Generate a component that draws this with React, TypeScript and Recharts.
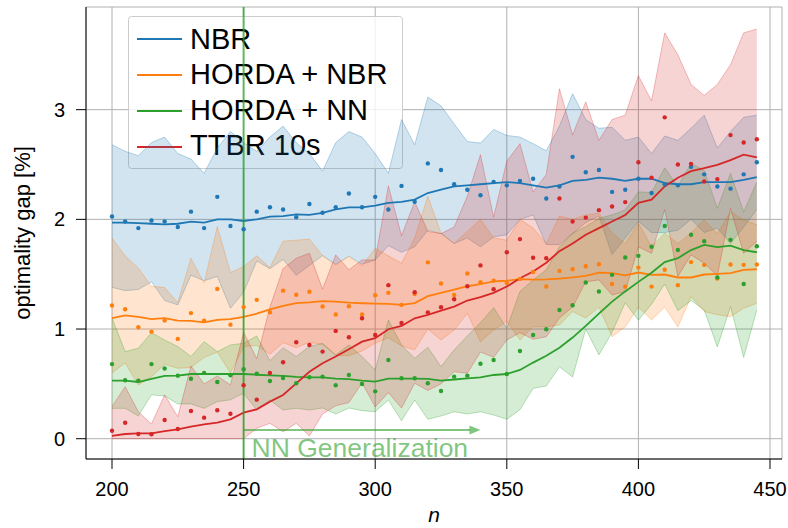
import React from 'react';
import {
  ComposedChart,
  Area,
  Line,
  XAxis,
  YAxis,
  CartesianGrid,
  ReferenceLine,
  ReferenceDot,
  Customized,
} from 'recharts';

// ---------- data ----------
const N = [
  200, 205, 210, 215, 220, 225, 230, 235, 240, 245, 250, 255, 260, 265, 270, 275, 280, 285, 290, 295,
  300, 305, 310, 315, 320, 325, 330, 335, 340, 345, 350, 355, 360, 365, 370, 375, 380, 385, 390, 395,
  400, 405, 410, 415, 420, 425, 430, 435, 440, 445,
];

const X_TICKS = [200, 250, 300, 350, 400, 450];
const Y_TICKS = [0, 1, 2, 3];

// NBR
const nbrMean = [1.97, 1.97, 1.965, 1.96, 1.955, 1.96, 1.98, 1.97, 2.0, 2.0, 1.985, 2.0, 2.025, 2.03, 2.045, 2.04, 2.06, 2.09, 2.11, 2.11, 2.125, 2.15, 2.16, 2.18, 2.24, 2.27, 2.3, 2.31, 2.32, 2.33, 2.34, 2.33, 2.31, 2.29, 2.31, 2.35, 2.36, 2.38, 2.37, 2.35, 2.37, 2.37, 2.33, 2.32, 2.32, 2.34, 2.34, 2.34, 2.36, 2.385];
const nbrDot = [2.026, 1.98, 1.92, 1.99, 1.98, 1.93, 2.07, 1.92, 2.205, 1.94, 1.91, 2.07, 2.11, 2.09, 2.02, 2.14, 2.06, 2.11, 2.235, 2.11, 2.205, 2.09, 2.305, 2.16, 2.51, 2.45, 2.32, 2.27, 2.22, 2.34, 2.31, 2.35, 2.37, 2.19, 2.3, 2.57, 2.43, 2.45, 2.25, 2.27, 2.37, 2.24, 2.32, 2.31, 2.48, 2.41, 2.3, 2.28, 2.41, 2.52];
const nbrHigh = [2.68, 2.62, 2.58, 2.7, 2.75, 2.6, 2.55, 2.42, 2.65, 2.8, 2.7, 2.62, 2.75, 2.85, 2.7, 2.6, 2.44, 2.7, 2.8, 2.75, 2.6, 2.42, 2.91, 2.68, 3.115, 3.035, 2.87, 2.71, 2.695, 2.82, 2.765, 2.75, 2.69, 2.625, 2.85, 3.145, 2.91, 2.83, 2.84, 2.72, 2.75, 2.6, 2.76, 2.72, 2.83, 2.95, 2.65, 2.8, 2.93, 2.95];
const nbrLow = [1.38, 1.35, 1.36, 1.43, 1.26, 1.22, 1.49, 1.44, 1.48, 1.19, 1.335, 1.62, 1.55, 1.635, 1.49, 1.58, 1.67, 1.59, 1.665, 1.59, 1.63, 1.76, 1.7, 1.75, 1.9, 1.87, 1.78, 1.83, 1.75, 1.84, 1.86, 2.0, 2.04, 1.77, 1.77, 1.87, 1.97, 2.03, 1.68, 1.83, 1.98, 1.88, 1.88, 1.9, 2.0, 1.88, 1.92, 1.78, 1.93, 2.09];

// HORDA + NBR
const hnbrMean = [1.1, 1.125, 1.11, 1.09, 1.1, 1.077, 1.075, 1.06, 1.083, 1.09, 1.11, 1.14, 1.18, 1.21, 1.237, 1.243, 1.255, 1.25, 1.24, 1.235, 1.232, 1.23, 1.22, 1.237, 1.3, 1.33, 1.36, 1.39, 1.41, 1.435, 1.44, 1.455, 1.45, 1.452, 1.46, 1.47, 1.485, 1.515, 1.51, 1.49, 1.515, 1.494, 1.497, 1.47, 1.47, 1.497, 1.503, 1.51, 1.54, 1.545];
const hnbrDot = [1.215, 1.18, 1.016, 0.976, 1.077, 0.91, 1.145, 1.076, 1.366, 1.04, 1.2, 1.266, 1.153, 1.35, 1.313, 1.34, 1.205, 1.133, 1.207, 1.133, 1.308, 1.33, 1.22, 1.32, 1.608, 1.415, 1.31, 1.506, 1.427, 1.44, 1.42, 1.457, 1.52, 1.388, 1.53, 1.545, 1.573, 1.59, 1.41, 1.387, 1.56, 1.387, 1.54, 1.4, 1.61, 1.585, 1.46, 1.588, 1.585, 1.588];
const hnbrHigh = [1.83, 1.667, 1.555, 1.39, 1.378, 1.24, 1.646, 1.418, 1.934, 1.515, 1.57, 1.667, 1.56, 1.8, 1.81, 1.82, 1.667, 1.585, 1.66, 1.576, 1.737, 1.667, 1.6, 1.83, 2.21, 1.874, 1.78, 1.89, 2.0, 1.83, 1.81, 2.0, 1.92, 1.78, 2.03, 2.0, 2.04, 2.056, 1.874, 1.78, 1.965, 1.75, 1.874, 1.78, 1.874, 1.995, 1.87, 2.07, 1.995, 1.95];
const hnbrLow = [0.6, 0.69, 0.49, 0.566, 0.68, 0.642, 0.65, 0.74, 0.79, 0.6, 0.84, 0.85, 0.77, 0.876, 0.83, 0.88, 0.86, 0.76, 0.757, 0.8, 0.87, 0.92, 0.846, 0.81, 1.0, 0.9, 0.99, 1.144, 0.885, 0.99, 1.07, 0.9, 1.02, 1.02, 1.037, 1.16, 1.1, 1.2, 0.93, 1.02, 1.2, 1.083, 1.2, 1.02, 1.296, 1.16, 1.13, 1.113, 1.19, 1.235];

// HORDA + NN
const hnnMean = [0.53, 0.53, 0.517, 0.545, 0.572, 0.575, 0.59, 0.59, 0.59, 0.59, 0.59, 0.583, 0.578, 0.572, 0.563, 0.56, 0.56, 0.547, 0.543, 0.53, 0.52, 0.547, 0.547, 0.547, 0.545, 0.53, 0.54, 0.551, 0.56, 0.581, 0.59, 0.627, 0.694, 0.757, 0.83, 0.922, 1.028, 1.14, 1.25, 1.343, 1.43, 1.513, 1.61, 1.646, 1.72, 1.767, 1.746, 1.761, 1.72, 1.7];
const hnnDot = [0.68, 0.533, 0.53, 0.68, 0.64, 0.575, 0.547, 0.6, 0.517, 0.578, 0.633, 0.593, 0.526, 0.554, 0.505, 0.56, 0.566, 0.487, 0.581, 0.499, 0.432, 0.718, 0.551, 0.551, 0.505, 0.435, 0.566, 0.575, 0.684, 0.718, 0.59, 0.8, 0.946, 0.998, 1.174, 1.217, 1.424, 1.342, 1.494, 1.652, 1.667, 1.75, 1.94, 1.72, 1.86, 1.8, 1.47, 1.813, 1.41, 1.755];
const hnnHigh = [1.1, 0.794, 0.825, 0.967, 0.9, 0.84, 0.75, 0.885, 0.794, 0.855, 0.87, 0.937, 0.712, 0.83, 0.75, 0.84, 0.87, 0.764, 0.855, 0.75, 0.627, 1.083, 0.855, 0.733, 0.834, 0.657, 0.81, 0.937, 1.058, 1.195, 1.007, 1.342, 1.448, 1.54, 1.75, 1.874, 1.934, 2.01, 2.04, 2.087, 2.25, 2.245, 2.47, 2.3, 2.51, 2.445, 2.1, 2.42, 2.066, 2.34];
const hnnLow = [0.277, 0.277, 0.207, 0.4, 0.39, 0.317, 0.317, 0.277, 0.338, 0.355, 0.414, 0.262, 0.353, 0.262, 0.277, 0.262, 0.28, 0.225, 0.28, 0.256, 0.246, 0.353, 0.164, 0.353, 0.177, 0.207, 0.246, 0.225, 0.246, 0.216, 0.177, 0.265, 0.46, 0.48, 0.655, 0.563, 1.0, 0.764, 0.97, 1.24, 1.08, 1.227, 1.41, 1.167, 1.26, 1.174, 0.837, 1.204, 0.742, 1.174];

// TTBR 10s
const ttbrMean = [0.025, 0.043, 0.049, 0.049, 0.07, 0.085, 0.11, 0.131, 0.146, 0.177, 0.237, 0.268, 0.338, 0.399, 0.505, 0.61, 0.688, 0.75, 0.816, 0.885, 0.916, 0.998, 1.028, 1.098, 1.13, 1.168, 1.204, 1.26, 1.29, 1.33, 1.387, 1.463, 1.524, 1.605, 1.71, 1.78, 1.86, 1.92, 1.98, 2.04, 2.15, 2.18, 2.3, 2.38, 2.44, 2.467, 2.497, 2.54, 2.59, 2.564];
const ttbrDot = [0.073, 0.146, 0.043, 0.04, 0.17, 0.088, 0.253, 0.192, 0.259, 0.228, 0.487, 0.356, 0.6, 0.697, 0.879, 0.855, 0.794, 0.983, 0.925, 1.098, 0.946, 1.4, 1.055, 1.335, 1.152, 1.198, 1.272, 1.39, 1.58, 1.363, 1.7, 1.82, 1.65, 1.646, 2.19, 1.98, 2.016, 2.084, 2.117, 2.157, 2.52, 2.38, 2.93, 2.5, 2.506, 2.345, 2.367, 2.768, 2.7, 2.73];
const ttbrHigh = [0.292, 0.474, 0.246, 0.134, 0.399, 0.2, 0.663, 0.499, 0.572, 0.49, 0.97, 0.73, 1.2, 1.55, 1.646, 1.69, 1.363, 1.676, 1.54, 1.63, 1.63, 2.305, 1.85, 2.16, 1.89, 1.87, 1.93, 2.21, 2.59, 2.02, 2.53, 2.69, 2.25, 2.41, 3.19, 2.77, 3.07, 2.72, 2.91, 2.95, 3.31, 3.08, 3.7, 3.5, 3.23, 3.13, 3.23, 3.41, 3.7, 3.735];
const ttbrLow = [0, 0, 0, 0, 0, 0, 0, 0, 0, 0, 0, 0.095, 0.14, 0.064, 0.14, 0.025, 0.225, 0.3, 0.33, 0.51, 0.29, 0.42, 0.28, 0.505, 0.44, 0.5, 0.611, 0.597, 0.79, 0.743, 0.9, 0.967, 0.907, 0.93, 1.1, 1.2, 1.43, 1.448, 1.31, 1.342, 1.75, 1.69, 2.09, 1.48, 1.676, 1.6, 1.485, 2.1, 1.69, 1.8];

const SERIES_NAMES = ['NBR', 'HORDA + NBR', 'HORDA + NN', 'TTBR 10s'];
const SERIES_KEYS = ['nbr', 'hnbr', 'hnn', 'ttbr'];
const COLORS = ['#1f77b4', '#ff7f0e', '#2ca02c', '#d62728'];

const GEN_START = 250;
const GEN_ARROW_END = 340;
const GEN_ARROW_Y = 0.08;
const GEN_LABEL = 'NN Generalization';

const X_DOMAIN = [190.12, 454.56];
const Y_DOMAIN = [-0.185, 3.936];

const MEANS = [nbrMean, hnbrMean, hnnMean, ttbrMean];
const DOTS = [nbrDot, hnbrDot, hnnDot, ttbrDot];
const HIGHS = [nbrHigh, hnbrHigh, hnnHigh, ttbrHigh];
const LOWS = [nbrLow, hnbrLow, hnnLow, ttbrLow];

const data = N.map((n, i) => {
  const row: Record<string, any> = { n };
  SERIES_KEYS.forEach((k, s) => {
    row[k + 'Band'] = [LOWS[s][i], HIGHS[s][i]];
    row[k + 'Mean'] = MEANS[s][i];
    row[k + 'Dot'] = DOTS[s][i];
  });
  return row;
});

const FONT = '"Liberation Sans", Arial, sans-serif';

const LegendBox = () => (
  <g>
    <rect x={128.5} y={16.5} width={274} height={152} rx={3} ry={3} fill="#ffffff" fillOpacity={0.8} stroke="#cccccc" strokeWidth={1} />
    {SERIES_NAMES.map((name, i) => (
      <g key={name}>
        <line x1={137} x2={182} y1={39 + 36 * i} y2={39 + 36 * i} stroke={COLORS[i]} strokeWidth={2} />
        <text x={190} y={48.5 + 35.6 * i} fontSize={29} fontFamily={FONT} fill="#000">
          {name}
        </text>
      </g>
    ))}
  </g>
);

const ArrowHead = (props: any) => {
  const { cx, cy } = props;
  return <path d={`M${cx},${cy} L${cx - 11},${cy - 4.5} L${cx - 11},${cy + 4.5} Z`} fill="#2ca02c" fillOpacity={0.6} />;
};

const GenText = (props: any) => {
  const { cx, cy } = props;
  return (
    <text x={cx + 8} y={cy + 27} fontSize={26.5} fontFamily={FONT} fill="#2ca02c" fillOpacity={0.6}>
      {GEN_LABEL}
    </text>
  );
};

const YLabel = (props: any) => {
  const vb = props.viewBox || { x: 0, y: 7, width: 86, height: 452 };
  const cx = vb.x + 30;
  const cy = vb.y + vb.height / 2;
  return (
    <text x={cx} y={cy} transform={`rotate(-90 ${cx} ${cy})`} textAnchor="middle" fontSize={22} fontFamily={FONT} fill="#000">
      optimality gap [%]
    </text>
  );
};

const XLabel = (props: any) => {
  const vb = props.viewBox || { x: 86, y: 459, width: 696, height: 69 };
  return (
    <text x={vb.x + vb.width / 2} y={vb.y + 63} textAnchor="middle" fontSize={21} fontStyle="italic" fontFamily={FONT} fill="#000">
      n
    </text>
  );
};

export default function App() {
  return (
    <div style={{ position: 'absolute', left: 0, top: 0, width: 788, height: 528, background: '#fff' }}>
      <ComposedChart width={788} height={528} data={data} margin={{ top: 7, right: 6, bottom: 0, left: 0 }}>
        <CartesianGrid stroke="#b0b0b0" strokeWidth={1} />
        <XAxis
          dataKey="n"
          type="number"
          domain={X_DOMAIN}
          ticks={X_TICKS}
          allowDataOverflow
          height={69}
          tickSize={10}
          tickMargin={13}
          tick={{ fill: '#000', fontSize: 20, fontFamily: FONT }}
          axisLine={{ stroke: '#000', strokeWidth: 1 }}
          tickLine={{ stroke: '#000', strokeWidth: 1 }}
          label={<XLabel />}
        />
        <XAxis
          xAxisId="top"
          orientation="top"
          dataKey="n"
          type="number"
          domain={X_DOMAIN}
          allowDataOverflow
          height={0}
          tick={false}
          tickLine={false}
          axisLine={{ stroke: '#000', strokeWidth: 1 }}
        />
        <YAxis
          type="number"
          domain={Y_DOMAIN}
          ticks={Y_TICKS}
          allowDataOverflow
          width={86}
          tickSize={10}
          tickMargin={11}
          tick={{ fill: '#000', fontSize: 20, fontFamily: FONT }}
          axisLine={{ stroke: '#000', strokeWidth: 1 }}
          tickLine={{ stroke: '#000', strokeWidth: 1 }}
          label={<YLabel />}
        />
        <YAxis
          yAxisId="right"
          orientation="right"
          type="number"
          domain={Y_DOMAIN}
          allowDataOverflow
          width={0}
          tick={false}
          tickLine={false}
          axisLine={{ stroke: '#000', strokeWidth: 1 }}
        />

        {SERIES_KEYS.map((k, s) => (
          <Area
            key={k + 'Band'}
            dataKey={k + 'Band'}
            type="linear"
            fill={COLORS[s]}
            fillOpacity={0.2}
            stroke={COLORS[s]}
            strokeOpacity={0.3}
            strokeWidth={1}
            dot={false}
            activeDot={false}
            isAnimationActive={false}
          />
        ))}
        {SERIES_KEYS.map((k, s) => (
          <Line
            key={k + 'Mean'}
            dataKey={k + 'Mean'}
            type="linear"
            stroke={COLORS[s]}
            strokeWidth={1.8}
            dot={false}
            activeDot={false}
            isAnimationActive={false}
          />
        ))}
        {SERIES_KEYS.map((k, s) => (
          <Line
            key={k + 'Dot'}
            dataKey={k + 'Dot'}
            type="linear"
            stroke="none"
            dot={{ r: 2.2, fill: COLORS[s], stroke: 'none' }}
            activeDot={false}
            isAnimationActive={false}
          />
        ))}

        <Customized component={<LegendBox />} />

        <ReferenceLine x={GEN_START} stroke="#2ca02c" strokeOpacity={0.75} strokeWidth={2} />
        <ReferenceLine
          segment={[
            { x: GEN_START, y: GEN_ARROW_Y },
            { x: GEN_ARROW_END - 4, y: GEN_ARROW_Y },
          ]}
          stroke="#2ca02c"
          strokeOpacity={0.6}
          strokeWidth={2}
        />
        <ReferenceDot x={GEN_ARROW_END} y={GEN_ARROW_Y} r={0} shape={<ArrowHead />} />
        <ReferenceDot x={GEN_START} y={GEN_ARROW_Y} r={0} shape={<GenText />} />
      </ComposedChart>
    </div>
  );
}
